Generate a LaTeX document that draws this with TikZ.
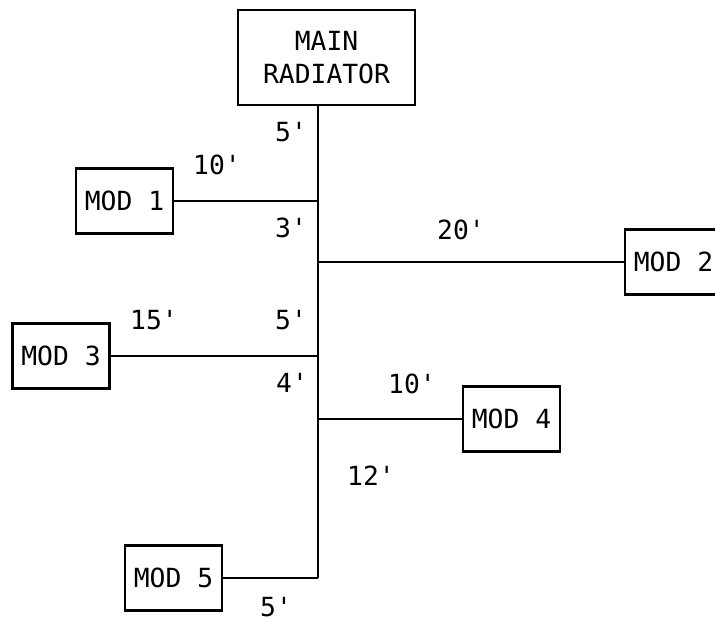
\documentclass[tikz,border=0pt]{standalone}
\usepackage{fontspec}
\setmonofont{DejaVu Sans Mono}
\usepackage{tikz}
\usetikzlibrary{shapes,arrows}
\tikzstyle{radiator}=[rectangle, draw, line width=1.2pt, minimum height=1.9cm, minimum width=3.54cm, align=center, font=\ttfamily\fontsize{15}{19}\selectfont]
\tikzstyle{modbox}=[rectangle, draw, line width=1.2pt, minimum height=1.3cm, minimum width=1.94cm, font=\ttfamily\fontsize{15}{19}\selectfont]
\tikzstyle{runlen}=[inner sep=0pt, font=\ttfamily\fontsize{15}{19}\selectfont]
\tikzstyle{pipe}=[line width=1.3pt]
\newcommand{\modbox}[3]{
	\node[modbox] (#1) at (#2) {#3};}
\newcommand{\runlen}[3]{
	\node[runlen] (#1) at (#2) {#3};}

\begin{document}
\begin{tikzpicture}
\useasboundingbox (0cm,0cm) rectangle (14.3cm,12.42cm);

\node[radiator] (main) at (6.53cm,11.27cm) {MAIN\\RADIATOR};

\coordinate (j1) at (6.36cm,8.40cm);
\coordinate (j2) at (6.36cm,7.18cm);
\coordinate (j3) at (6.36cm,5.30cm);
\coordinate (j4) at (6.36cm,4.04cm);
\coordinate (j5) at (6.36cm,0.86cm);

\modbox{m1}{2.49cm,8.40cm}{MOD 1}
\modbox{m2}{13.47cm,7.18cm}{MOD 2}
\modbox{m3}{1.22cm,5.30cm}{MOD 3}
\modbox{m4}{10.23cm,4.04cm}{MOD 4}
\modbox{m5}{3.47cm,0.86cm}{MOD 5}

\runlen{l0}{5.82cm,9.78cm}{5'}
\runlen{l1}{4.34cm,9.12cm}{10'}
\runlen{l12}{5.82cm,7.86cm}{3'}
\runlen{l2}{9.22cm,7.82cm}{20'}
\runlen{l3}{3.08cm,6.02cm}{15'}
\runlen{l23}{5.82cm,6.02cm}{5'}
\runlen{l34}{5.84cm,4.76cm}{4'}
\runlen{l4}{8.24cm,4.74cm}{10'}
\runlen{l45}{7.42cm,2.90cm}{12'}
\runlen{l5}{5.52cm,0.28cm}{5'}

\draw[pipe] (j5 |- main.south) -- (j5);
\path[pipe] (m1) edge (j1);
\path[pipe] (m2) edge (j2);
\path[pipe] (m3) edge (j3);
\path[pipe] (m4) edge (j4);
\path[pipe] (m5) edge (j5);
\end{tikzpicture}
\end{document}
